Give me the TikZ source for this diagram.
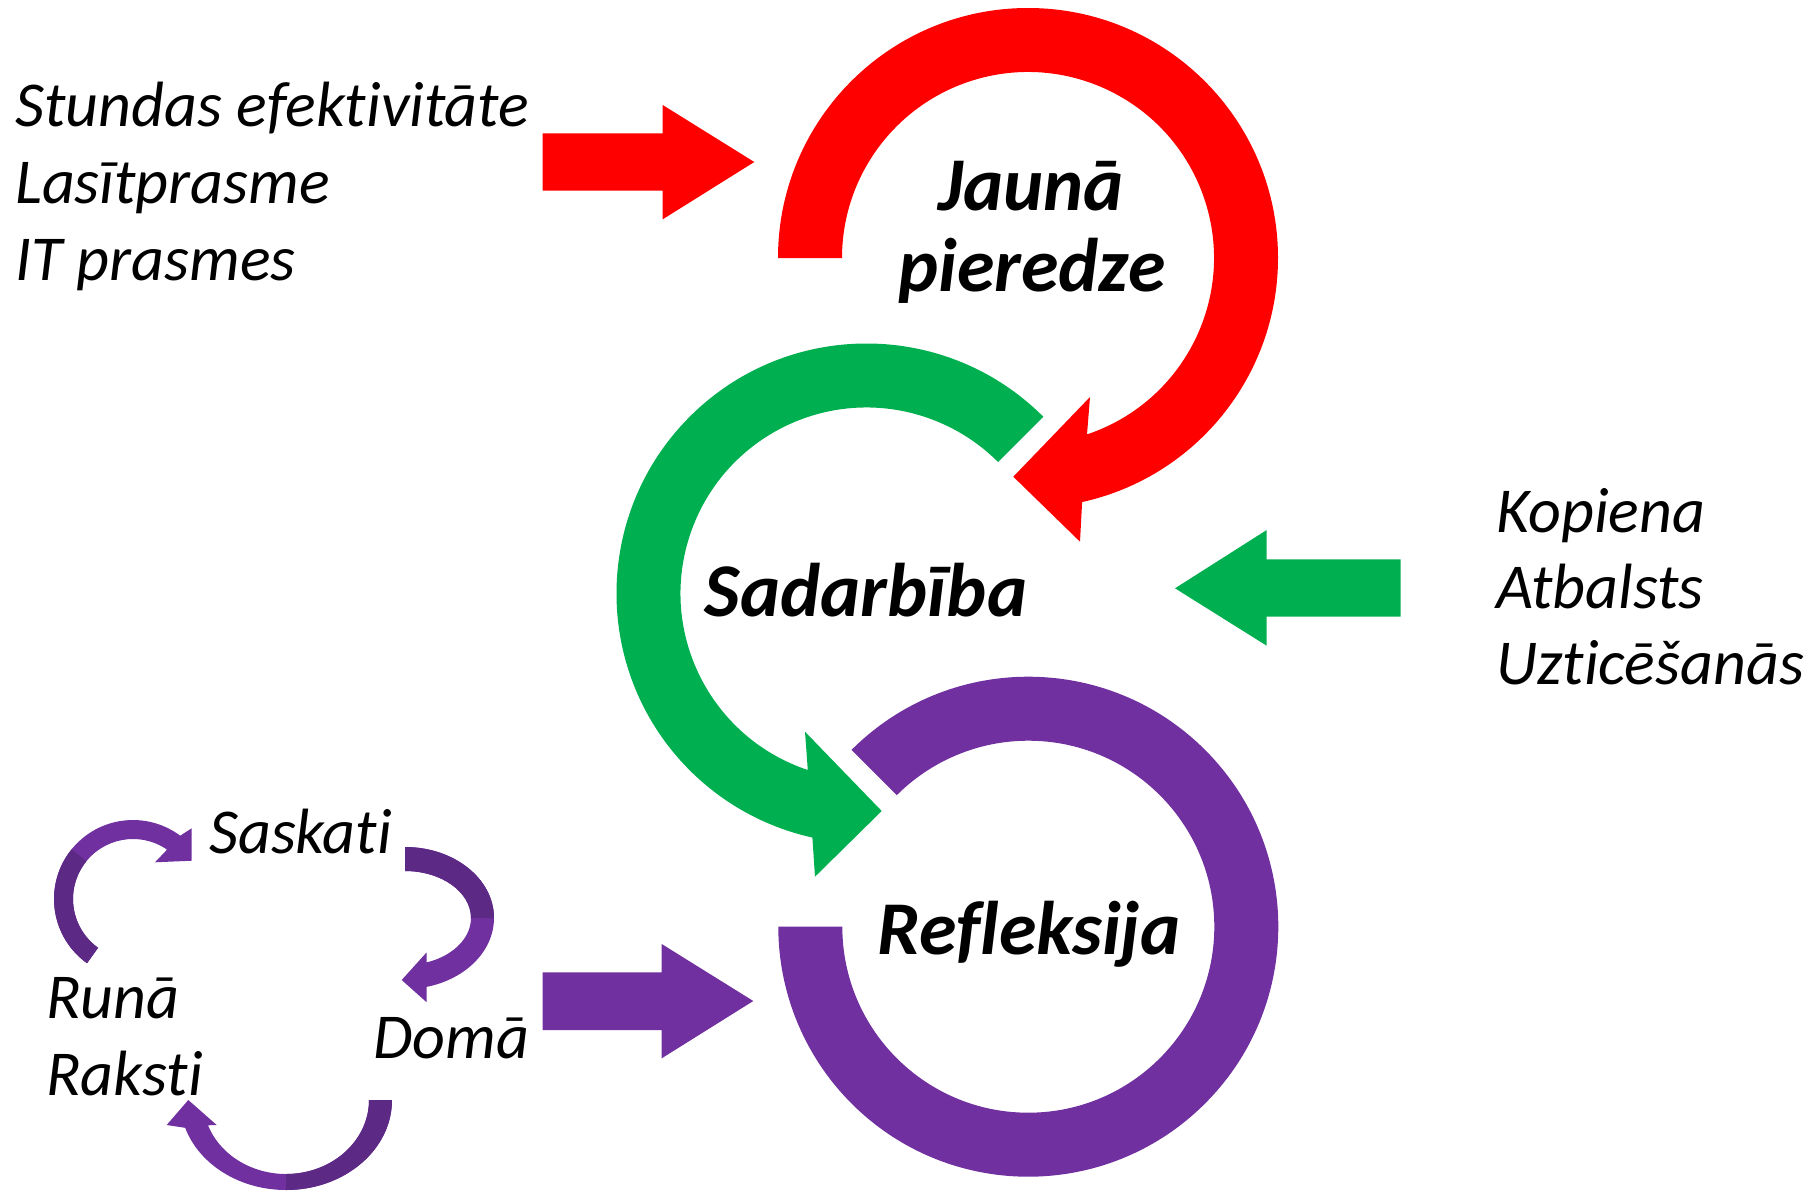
\documentclass[tikz,border=0pt]{standalone}
\usepackage{fontspec}
\setmainfont{Carlito}[Ligatures=NoCommon]
\usetikzlibrary{calc}

\definecolor{cred}{HTML}{FF0000}
\definecolor{cgreen}{HTML}{00B050}
\definecolor{cpurple}{HTML}{7030A0}
\definecolor{cpurpledark}{HTML}{5C2A84}

\tikzset{
  bigtext/.style={font=\fontsize{76}{82}\selectfont\bfseries\itshape, inner sep=0pt, anchor=base},
  smalltext/.style={font=\fontsize{64}{77}\selectfont\itshape, inner sep=0pt, anchor=base west},
}

\begin{document}
\begin{tikzpicture}[x=1pt, y=1pt]
    \useasboundingbox (0,0) rectangle (1816,-1191);

    % ring radii (outer / inner) of the three big circular arrows
    \def\ro{250}
    \def\ri{186}

    % centres of the rings
    \coordinate (R) at (1028,-258);
    \coordinate (G) at (866.5,-593.5);
    \coordinate (P) at (1028.3,-926.7);

    % red ring: clockwise from the left end, head turned down-left
    \fill[cred] ($(R)+(180:\ro)$) arc[start angle=180, end angle=-77.5, radius=\ro]
        -- (1080,-541.7) -- (1013.3,-476.7) -- (1090,-397)
        -- ($(R)+(-71.5:\ri)$) arc[start angle=-71.5, end angle=180, radius=\ri] -- cycle;

    % green ring: anticlockwise from upper right, head turned down-right
    \fill[cgreen] ($(G)+(45:\ro)$) arc[start angle=45, end angle=257.5, radius=\ro]
        -- (815,-876.7) -- (881.7,-811) -- (805,-731.7)
        -- ($(G)+(251.6:\ri)$) arc[start angle=251.6, end angle=45, radius=\ri] -- cycle;

    % purple ring: clockwise from upper left, flat end on the left
    \fill[cpurple] ($(P)+(135:\ro)$) arc[start angle=135, end angle=-180, radius=\ro]
        -- ($(P)+(-180:\ri)$) arc[start angle=-180, end angle=135, radius=\ri] -- cycle;

    % straight block arrows
    \coordinate (redtail) at (542.7,-162);
    \fill[cred] (redtail) ++(0,28.7) -- ++(120,0) -- ++(0,28.3) -- (754.3,-162)
        -- (662.7,-219.3) -- ++(0,28.6) -- ++(-120,0) -- cycle;
    \coordinate (greentail) at (1400.7,-588);
    \fill[cgreen] (greentail) ++(0,28.7) -- ++(-134,0) -- ++(0,29.3) -- (1175,-588.3)
        -- (1266.7,-645.7) -- ++(0,29) -- ++(134,0) -- cycle;
    \coordinate (purpletail) at (542.7,-1001);
    \fill[cpurple] (purpletail) ++(0,28.7) -- ++(119,0) -- ++(0,28.3) -- (753.3,-1001)
        -- (661.7,-1058.3) -- ++(0,28.3) -- ++(-119,0) -- cycle;

    % small curved arrows (bottom left)
    \coordinate (A) at (133,-899);
    \coordinate (B) at (405,-918);
    \coordinate (C) at (286,-1100);

    % Runa -> Saskati
    \fill[cpurple] ($(A)+(234.4:79)$) arc[start angle=234.4, end angle=53.3, radius=79]
        -- (191.7,-828.3) -- (191.7,-860.7) -- (155,-862.3)
        -- ($(A)+(55.4:60)$) arc[start angle=55.4, end angle=234.4, radius=60] -- cycle;
    \fill[cpurpledark] ($(A)+(234.4:79)$) arc[start angle=234.4, end angle=141, radius=79]
        -- ($(A)+(141:60)$) arc[start angle=141, end angle=234.4, radius=60] -- cycle;

    % Saskati -> Doma
    \fill[cpurple] ($(B)+(0,71)$) arc[start angle=90, end angle=-76, x radius=89, y radius=71]
        -- (426.7,-1002.3) -- (401.7,-980) -- (426.7,-952.3)
        -- ($(B)+({66*cos(-71)},{47*sin(-71)})$) arc[start angle=-71, end angle=90, x radius=66, y radius=47] -- cycle;
    \fill[cpurpledark] ($(B)+(0,71)$) arc[start angle=90, end angle=0, x radius=89, y radius=71]
        -- ($(B)+(66,0)$) arc[start angle=0, end angle=90, x radius=66, y radius=47] -- cycle;

    % Doma -> Raksti
    \fill[cpurple] ($(C)+(106,0)$) arc[start angle=0, end angle=-162, x radius=106, y radius=90]
        -- (166.7,-1125) -- (188.3,-1100) -- (216.7,-1125)
        -- ($(C)+({83*cos(-160)},{74*sin(-160)})$) arc[start angle=-160, end angle=0, x radius=83, y radius=74] -- cycle;
    \fill[cpurpledark] ($(C)+(106,0)$) arc[start angle=0, end angle=-90, x radius=106, y radius=90]
        -- ($(C)+(0,-74)$) arc[start angle=-90, end angle=0, x radius=83, y radius=74] -- cycle;

    % ring labels
    \node[bigtext] (jauna) at (1031,-210) {Jaunā};
    \node[bigtext] (pieredze) at (1032,-291.7) {pieredze};
    \node[bigtext] (sadarbiba) at (866,-616) {Sadarbība};
    \node[bigtext] (refleksija) at (1029,-954) {Refleksija};

    % side lists
    \node[smalltext] (stundas) at (15,-126) {Stundas efektivitāte};
    \node[smalltext] (lasit) at (15,-203) {Lasītprasme};
    \node[smalltext] (itpr) at (15,-280) {IT prasmes};
    \node[smalltext] (kopiena) at (1496,-532) {Kopiena};
    \node[smalltext] (atbalsts) at (1496,-608) {Atbalsts};
    \node[smalltext] (uzticesanas) at (1496,-684) {Uzticēšanās};

    % small cycle labels
    \node[smalltext] (saskati) at (209,-853) {Saskati};
    \node[smalltext] (runa) at (46,-1018) {Runā};
    \node[smalltext] (raksti) at (46,-1095) {Raksti};
    \node[smalltext] (doma) at (373,-1058) {Domā};
\end{tikzpicture}
\end{document}
